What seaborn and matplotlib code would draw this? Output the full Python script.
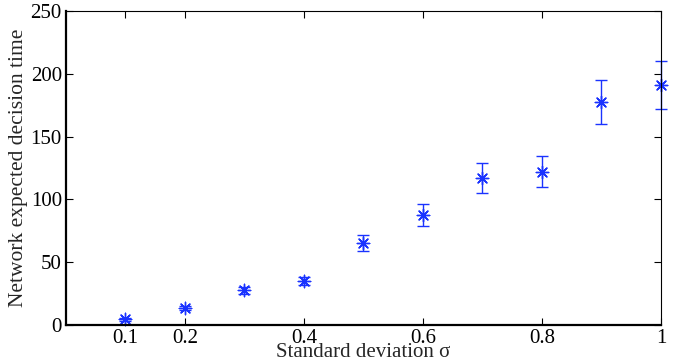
import numpy as np
import matplotlib
matplotlib.use("Agg")
import matplotlib.pyplot as plt
import pandas as pd
import seaborn as sns

# data
sigma = [0.1, 0.2, 0.3, 0.4, 0.5, 0.6, 0.7, 0.8, 0.9, 1.0]
decision_time = [4.5, 13.5, 27.5, 34.8, 65.3, 87.6, 116.9, 122.2, 177.5, 190.9]
time_err = [1.0, 1.8, 2.5, 3.2, 6.6, 8.8, 11.8, 12.3, 17.8, 19.0]
xtick_vals = [0.1, 0.2, 0.4, 0.6, 0.8, 1]
xtick_labels = ["0.1", "0.2", "0.4", "0.6", "0.8", "1"]

df = pd.DataFrame({"sigma": sigma, "time": decision_time, "err": time_err})

sns.set_style("ticks")
plt.rcParams['font.family'] = ['Liberation Serif', 'DejaVu Serif']

fig = plt.figure(figsize=(6.81, 3.62), dpi=100)
ax = fig.add_axes([0.0969, 0.1022, 0.8737, 0.8674])

blue = '#1a33ff'
ax.errorbar(df["sigma"], df["time"], yerr=df["err"], fmt='none',
            ecolor=blue, elinewidth=1.0, capsize=4, capthick=1.0, clip_on=False)
sns.scatterplot(data=df, x="sigma", y="time", ax=ax, marker=(8, 2, 0),
                s=80, color=blue, edgecolor=blue, linewidth=1.0, clip_on=False,
                legend=False)

ax.set_xlim(0, 1)
ax.set_ylim(0, 250)
ax.set_xticks(xtick_vals)
ax.set_xticklabels(xtick_labels)
ax.set_yticks([0, 50, 100, 150, 200, 250])
ax.tick_params(direction='in', top=True, right=True, length=5, width=0.8,
               labelsize=15, pad=3, colors='black')
for side in ['left', 'bottom']:
    ax.spines[side].set_linewidth(1.6)
for side in ['top', 'right']:
    ax.spines[side].set_linewidth(0.8)
for s in ax.spines.values():
    s.set_color('black')
    s.set_visible(True)

ax.set_xlabel("Standard deviation σ", fontsize=15, labelpad=-4)
ax.set_ylabel("Network expected decision time", fontsize=15.5, labelpad=2)

plt.savefig("out.png", dpi=100)
